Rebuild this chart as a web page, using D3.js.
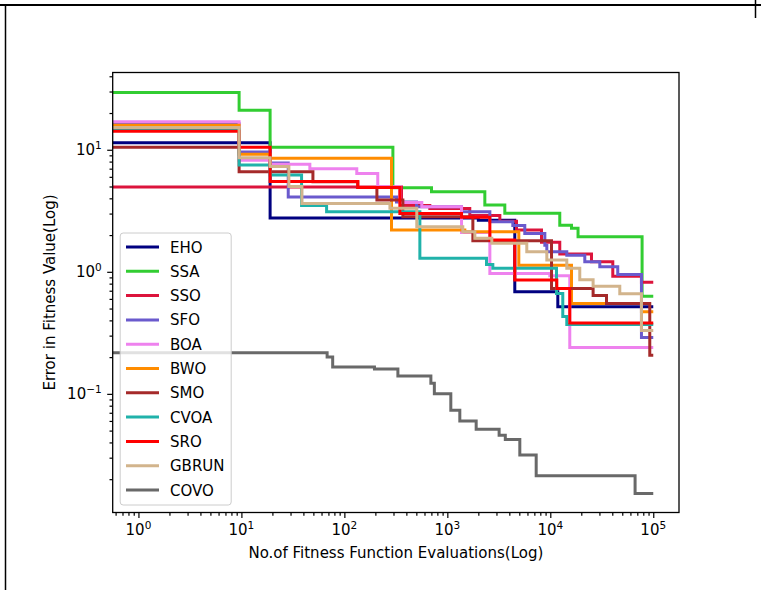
<!DOCTYPE html>
<html><head><meta charset="utf-8">
<script src="https://cdn.jsdelivr.net/npm/d3@7"></script>
<style>
html,body{margin:0;padding:0;background:#fff;}
svg{display:block;font-family:"DejaVu Sans",sans-serif;}
</style></head><body>
<div id="chart"></div>
<script>
// ---- data (x = fitness evaluations where a new level starts, y = error) ----
const names  = ["EHO","SSA","SSO","SFO","BOA","BWO","SMO","CVOA","SRO","GBRUN","COVO"];
const colors = ["#000080","#32cd32","#dc143c","#6a5acd","#ee82ee","#ff8c00","#a52a2a","#20b2aa","#ff0000","#d2b48c","#696969"];
const END_X = 1e5;
const EHO  = [[0.5,11.4],[19,2.76],[2000,2.65],[4520,0.686],[11830,0.517]];
const SSA  = [[0.5,29.5],[9.5,21.1],[19,10.5],[296,4.88],[702,4.53],[2313,3.52],[3616,3.02],[12360,2.41],[16070,2.27],[18600,1.94],[77900,0.63]];
const SSO  = [[0.5,4.95],[359,3.5],[676,3.3],[1652,2.9],[3236,2.6],[4698,2.2],[8218,1.75],[12360,1.4],[25120,1.21],[40450,0.92],[76800,0.82]];
const SFO  = [[0.5,16.3],[9.5,9.6],[19,7.8],[28.5,4.1],[321,3.74],[502,3.41],[1374,3.1],[2588,2.57],[4325,2.4],[5653,2.06],[8850,1.65],[9252,1.46],[14460,1.37],[21630,1.21],[30250,1.1],[45200,0.95],[76800,0.29]];
const BOA  = [[0.5,17.0],[9.5,8.2],[19,7.6],[46.2,7.0],[132,6.4],[211,4.97],[346,3.7],[565,3.41],[1374,2.1],[2588,0.97],[9890,0.93],[15460,0.24]];
const BWO  = [[0.5,15.9],[9.5,9.2],[19,8.5],[287,2.2],[1479,2.13],[4945,1.13],[16070,0.55],[76800,0.47]];
const SMO  = [[0.5,10.5],[9.5,6.6],[49.5,5.46],[135,4.9],[207,3.87],[370,2.82],[1770,1.8],[10280,0.73],[26050,0.64],[35150,0.55],[92500,0.207]];
const CVOA = [[0.5,14.6],[9.5,7.5],[19,6.2],[38.4,3.5],[67.2,3.1],[541,1.29],[2402,1.15],[2766,1.07],[11490,0.665],[13220,0.43],[14460,0.37]];
const SRO  = [[0.5,14.2],[9.5,10.5],[19,5.5],[135,4.9],[346,3.0],[1374,2.8],[2588,1.82],[4520,0.855],[11570,0.73],[15460,0.38]];
const GBRUN= [[0.5,15.2],[9.5,8.6],[19,7.3],[28.9,5.0],[38.7,3.63],[277,3.31],[505,2.34],[1413,2.13],[1850,1.88],[2704,1.71],[5912,1.46],[9252,1.25],[14460,1.07],[19330,0.86],[26050,0.76],[47300,0.66],[76800,0.33]];
const COVO = [[0.5,0.217],[68,0.2],[77,0.166],[196,0.16],[331,0.14],[692,0.122],[748,0.1],[1081,0.0735],[1322,0.06],[1906,0.0514],[3184,0.0458],[3656,0.0423],[5058,0.0315],[7295,0.0213],[66600,0.0153]];
const seriesData = [EHO,SSA,SSO,SFO,BOA,BWO,SMO,CVOA,SRO,GBRUN,COVO];

const xTicks = [1,10,100,1000,10000,100000];
const xTickExp = ["0","1","2","3","4","5"];
const yTicks = [0.1,1,10];
const yTickExp = ["\u22121","0","1"];
const xLabel = "No.of Fitness Function Evaluations(Log)";
const yLabel = "Error in Fitness Value(Log)";

// ---- layout ----
const W = 761, H = 590;
const L = 112.7, R = 679, T = 72.5, B = 512.5;
const FS = 15;

const svg = d3.select("#chart").append("svg").attr("width", W).attr("height", H);
svg.append("rect").attr("width", W).attr("height", H).attr("fill", "#fff");

// screenshot border remnants
svg.append("line").attr("x1",0).attr("x2",W).attr("y1",5).attr("y2",5).attr("stroke","#000").attr("stroke-width",2);
svg.append("line").attr("x1",5.5).attr("x2",5.5).attr("y1",4).attr("y2",H).attr("stroke","#000").attr("stroke-width",1.5);
svg.append("line").attr("x1",755.5).attr("x2",755.5).attr("y1",0).attr("y2",18).attr("stroke","#000").attr("stroke-width",1.5);

const x = d3.scaleLog().domain([Math.pow(10,-0.25), Math.pow(10,5.25)]).range([L, R]);
const y = d3.scaleLog().domain([Math.pow(10,-1.972), Math.pow(10,1.633)]).range([B, T]);

svg.append("clipPath").attr("id","clip").append("rect")
  .attr("x",L).attr("y",T).attr("width",R-L).attr("height",B-T);

// minor tick values
function minors(lo, hi){
  const out=[];
  for(let e=Math.floor(Math.log10(lo)); e<=Math.ceil(Math.log10(hi)); e++){
    for(let m=2;m<=9;m++){ const v=m*Math.pow(10,e); if(v>=lo && v<=hi) out.push(v); }
  }
  return out;
}
const xd = x.domain(), yd = y.domain();

// axes
const gx = svg.append("g").attr("transform",`translate(0,${B})`);
gx.call(d3.axisBottom(x).tickValues(xTicks).tickSize(5.5).tickSizeOuter(0).tickFormat(""));
gx.append("g").call(d3.axisBottom(x).tickValues(minors(xd[0],xd[1])).tickSize(3.2).tickSizeOuter(0).tickFormat(""));
const gy = svg.append("g").attr("transform",`translate(${L},0)`);
gy.call(d3.axisLeft(y).tickValues(yTicks).tickSize(5.5).tickSizeOuter(0).tickFormat(""));
gy.append("g").call(d3.axisLeft(y).tickValues(minors(yd[0],yd[1])).tickSize(3.2).tickSizeOuter(0).tickFormat(""));
svg.selectAll(".domain").remove();
svg.selectAll(".tick line").attr("stroke","#000").attr("stroke-width",1.2);

// tick labels with superscripts
xTicks.forEach((v,i)=>{
  const t = svg.append("text").attr("x", x(v)).attr("y", 535).attr("text-anchor","middle")
    .attr("font-size",FS).attr("fill","#000");
  t.append("tspan").text("10");
  t.append("tspan").attr("font-size",FS*0.7).attr("dy",-6).text(xTickExp[i]);
});
yTicks.forEach((v,i)=>{
  const t = svg.append("text").attr("x", 101.7).attr("y", y(v)+5.5).attr("text-anchor","end")
    .attr("font-size",FS).attr("fill","#000");
  t.append("tspan").text("10");
  t.append("tspan").attr("font-size",FS*0.7).attr("dy",-6).text(yTickExp[i]);
});

svg.append("text").attr("x",(L+R)/2).attr("y",558).attr("text-anchor","middle")
  .attr("font-size",FS).attr("fill","#000").text(xLabel);
svg.append("text").attr("transform",`translate(55,${(T+B)/2}) rotate(-90)`).attr("text-anchor","middle")
  .attr("font-size",FS).attr("fill","#000").text(yLabel);

// lines
const line = d3.line().x(d=>x(d[0])).y(d=>y(d[1])).curve(d3.curveStepAfter);
const gl = svg.append("g").attr("clip-path","url(#clip)");
seriesData.forEach((s,i)=>{
  const pts = s.concat([[END_X, s[s.length-1][1]]]);
  gl.append("path").attr("d", line(pts)).attr("fill","none")
    .attr("stroke", colors[i]).attr("stroke-width", 3).attr("stroke-linejoin","miter");
});

// frame
svg.append("rect").attr("x",L).attr("y",T).attr("width",R-L).attr("height",B-T)
  .attr("fill","none").attr("stroke","#000").attr("stroke-width",1.3);

// legend
const lgX = 120.2, lgY = 233, lgW = 111, lgH = 272, pitch = 24.3;
const lg = svg.append("g");
lg.append("rect").attr("x",lgX).attr("y",lgY).attr("width",lgW).attr("height",lgH)
  .attr("rx",3).attr("fill","#fff").attr("fill-opacity",0.8).attr("stroke","#cccccc").attr("stroke-width",1);
names.forEach((n,i)=>{
  const cy = lgY + 14 + i*pitch;
  lg.append("line").attr("x1",126).attr("x2",159).attr("y1",cy).attr("y2",cy)
    .attr("stroke",colors[i]).attr("stroke-width",3);
  lg.append("text").attr("x",170).attr("y",cy+5.5).attr("font-size",FS).attr("fill","#000").text(n);
});
</script>
</body></html>
